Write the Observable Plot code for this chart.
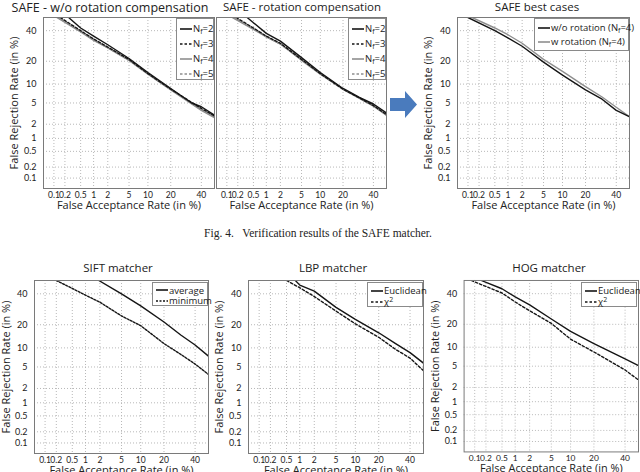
<!DOCTYPE html>
<html><head><meta charset="utf-8">
<script src="https://cdn.jsdelivr.net/npm/d3@7"></script>
<script src="https://cdn.jsdelivr.net/npm/@observablehq/plot@0.6"></script>
<style>
body{margin:0;background:#fff;}
#fig{position:relative;width:640px;height:472px;overflow:hidden;font-family:"Open Sans",sans-serif;color:#222;}
.panel{position:absolute;}
.title{position:absolute;font-size:11.5px;white-space:nowrap;transform:translateX(-50%);line-height:1.25;}
.legend{position:absolute;background:#fff;border:1px solid #8a8a8a;font-size:9.5px;box-sizing:border-box;padding:2px 2px 0 3px;line-height:1;}
.legend .row{display:flex;align-items:center;white-space:nowrap;}
.legend svg{flex:none;margin-right:1px;}
.legend sub{font-size:7px;vertical-align:-2px;line-height:0;}
.legend sup{font-size:7px;vertical-align:3px;line-height:0;}
.caption{position:absolute;left:0;width:636px;text-align:center;top:227px;font-family:"Liberation Serif",serif;font-size:11.5px;color:#222;}
</style>
</head><body>
<div id="fig"></div>
<script>
// ---------- DATA ----------
const detTicks = [0.1, 0.2, 0.5, 1, 2, 5, 10, 20, 40];
const detTickLabels = ["0.1", "0.2", "0.5", "1", "2", "5", "10", "20", "40"];
const detDomainPct = [0.05, 50];
const xAxisLabel = "False Acceptance Rate (in %)";
const yAxisLabel = "False Rejection Rate (in %)";

// SAFE - w/o rotation compensation  ([FAR %, FRR %])
const safeNoRotNf2 = [[0.25,50],[0.5,42],[1,36],[2,30],[5,21.5],[10,14.5],[20,8.6],[33,5.0],[40,4.3],[50,3.0]];
const safeNoRotNf3 = [[0.15,50],[0.5,40],[1,34],[2,28.5],[5,21],[10,14],[20,8.4],[40,4.0],[50,2.9]];
const safeNoRotNf4 = [[0.12,50],[0.5,39],[1,33],[2,28],[5,20.5],[10,13.8],[20,8.2],[40,3.7],[50,2.7]];
const safeNoRotNf5 = [[0.13,50],[0.5,39.5],[1,33.5],[2,28],[5,20.5],[10,14],[20,8.3],[40,3.8],[50,2.8]];

// SAFE - rotation compensation
const safeRotNf2 = [[0.35,50],[0.5,46],[1,38],[2,32.5],[5,22],[10,14.5],[20,8.6],[30,6.2],[40,4.8],[50,3.3]];
const safeRotNf3 = [[0.18,50],[0.5,42],[1,36],[2,31],[5,21],[10,14],[20,8.4],[40,4.5],[50,3.1]];
const safeRotNf4 = [[0.14,50],[0.5,41],[1,35.5],[2,30.5],[5,20.5],[10,13.8],[20,8.3],[40,4.4],[50,3.0]];
const safeRotNf5 = [[0.15,50],[0.5,41.5],[1,35.5],[2,30.5],[5,20.8],[10,14],[20,8.4],[40,4.5],[50,3.0]];

// SAFE best cases
const safeBestNoRot = [[0.1,50],[0.5,40],[1,34.7],[2,29],[5,19.5],[10,13.4],[20,8.2],[30,5.8],[40,3.7],[50,2.8]];
const safeBestRot = [[0.13,50],[0.5,42],[1,37],[2,31],[5,21],[10,15],[20,9.2],[30,6.3],[40,4.2],[50,2.8]];

// SIFT matcher
const siftAverage = [[1.9,50],[5,40],[10,31.5],[20,21.5],[30,15],[40,11],[50,7.5]];
const siftMinimum = [[0.2,50],[0.5,44],[1,39],[2,34],[5,25],[10,19.5],[20,11.5],[30,8],[40,5.6],[50,3.7]];

// LBP matcher
const lbpEuclidean = [[0.8,50],[1,46.5],[2,42],[5,30.5],[10,23],[20,16],[30,11.5],[40,8.5],[50,5.8]];
const lbpChi2 = [[0.5,50],[1,44.5],[2,38],[5,28],[10,20.5],[20,14],[30,9.5],[40,7],[50,4.3]];

// HOG matcher
const hogEuclidean = [[0.15,50],[0.5,43.7],[1,37.6],[2,32],[5,23],[10,16.4],[20,11.3],[40,6.6],[50,5.1]];
const hogChi2 = [[0.08,50],[0.5,40.5],[1,34],[2,28],[5,20.5],[10,13],[20,8.5],[40,4.3],[50,2.8]];

// ---------- helpers ----------
function probit(p){
  const a=[-3.969683028665376e+01,2.209460984245205e+02,-2.759285104469687e+02,1.383577518672690e+02,-3.066479806614716e+01,2.506628277459239e+00];
  const b=[-5.447609879822406e+01,1.615858368580409e+02,-1.556989798598866e+02,6.680131188771972e+01,-1.328068155288572e+01];
  const c=[-7.784894002430293e-03,-3.223964580411365e-01,-2.400758277161838e+00,-2.549732539343734e+00,4.374664141464968e+00,2.938163982698783e+00];
  const d=[7.784695709041462e-03,3.224671290700398e-01,2.445134137142996e+00,3.754408661907416e+00];
  const pl=0.02425, ph=1-pl; let q,r;
  if(p<pl){q=Math.sqrt(-2*Math.log(p));return (((((c[0]*q+c[1])*q+c[2])*q+c[3])*q+c[4])*q+c[5])/((((d[0]*q+d[1])*q+d[2])*q+d[3])*q+1);}
  if(p<=ph){q=p-0.5;r=q*q;return (((((a[0]*r+a[1])*r+a[2])*r+a[3])*r+a[4])*r+a[5])*q/(((((b[0]*r+b[1])*r+b[2])*r+b[3])*r+b[4])*r+1);}
  q=Math.sqrt(-2*Math.log(1-p));return -(((((c[0]*q+c[1])*q+c[2])*q+c[3])*q+c[4])*q+c[5])/((((d[0]*q+d[1])*q+d[2])*q+d[3])*q+1);
}
const pz = v => probit(v/100);
const tickPos = detTicks.map(pz);
const tickFmt = v => { const i = tickPos.findIndex(t => Math.abs(t - v) < 1e-9); return i >= 0 ? detTickLabels[i] : ""; };
const dom = detDomainPct.map(pz);

const BLACK = "#151515", GRAY = "#8e8e8e";
const fig = document.getElementById("fig");

function addPanel(fx, fy, fw, fh, series, showY, yLabelDx = -29){
  const mL = 46, mT = 2, mR = 2, mB = 30;
  const marks = [
    Plot.gridX(tickPos, {stroke:"#b8b8b8", strokeOpacity:1, strokeDasharray:"1,2"}),
    Plot.gridY(tickPos, {stroke:"#b8b8b8", strokeOpacity:1, strokeDasharray:"1,2"}),
    Plot.axisX(tickPos, {tickFormat: tickFmt, tickSize: 0, tickPadding: 3, fontFamily: "Lato, sans-serif", fontSize: 8.5, label: null}),
    Plot.text([xAxisLabel], {text: d => d, frameAnchor: "bottom", dy: 17, fontSize: 11, textAnchor: "middle", lineAnchor: "middle"})
  ];
  if (showY){
    marks.push(Plot.axisY(tickPos, {tickFormat: tickFmt, tickSize: 0, tickPadding: 7, fontFamily: "Lato, sans-serif", fontSize: 9, label: null}));
    marks.push(Plot.text([yAxisLabel], {text: d => d, frameAnchor: "left", dx: yLabelDx, rotate: -90, fontSize: 11, textAnchor: "middle", lineAnchor: "middle"}));
  }
  for (const s of series){
    marks.push(Plot.line(s.data, {x: d => pz(d[0]), y: d => pz(d[1]), stroke: s.stroke, strokeWidth: 1.4, strokeDasharray: s.dash || null, clip: true}));
  }
  marks.push(Plot.frame({stroke:"#7a7a7a"}));
  const svg = Plot.plot({
    width: fw + mL + mR, height: fh + mT + mB,
    marginLeft: mL, marginTop: mT, marginRight: mR, marginBottom: mB,
    style: {fontFamily: "Open Sans, sans-serif", fontSize: "9px", color: "#222", background: "transparent", overflow: "visible"},
    x: {domain: dom, axis: null},
    y: {domain: dom, axis: null},
    marks
  });
  const wrap = document.createElement("div");
  wrap.className = "panel";
  wrap.style.left = (fx - mL) + "px";
  wrap.style.top = (fy - mT) + "px";
  wrap.appendChild(svg);
  fig.appendChild(wrap);
}

function addTitle(text, cx, top, size){
  const t = document.createElement("div");
  t.className = "title"; t.textContent = text;
  t.style.left = cx + "px"; t.style.top = top + "px";
  if (size) t.style.fontSize = size + "px";
  fig.appendChild(t);
}

function addLegend(x, y, w, h, entries, rowH){
  const L = document.createElement("div");
  L.className = "legend";
  L.style.left = x + "px"; L.style.top = y + "px"; L.style.width = w + "px"; L.style.height = h + "px";
  for (const e of entries){
    const row = document.createElement("div");
    row.className = "row"; row.style.height = rowH + "px";
    row.innerHTML = `<svg width="12" height="6"><line x1="0" y1="3" x2="12" y2="3" stroke="${e.stroke}" stroke-width="1.6" ${e.dash ? `stroke-dasharray="${e.dash}"` : ""}/></svg><span>${e.label}</span>`;
    L.appendChild(row);
  }
  fig.appendChild(L);
}

// ---------- top row ----------
const nfSeries = (d2, d3, d4, d5) => [
  {data: d4, stroke: GRAY}, {data: d5, stroke: GRAY, dash: "2.5,2"},
  {data: d3, stroke: BLACK, dash: "2.5,2"}, {data: d2, stroke: BLACK}
];
const nfLegend = [
  {label: "N<sub>f</sub>=2", stroke: BLACK}, {label: "N<sub>f</sub>=3", stroke: BLACK, dash: "2.5,2"},
  {label: "N<sub>f</sub>=4", stroke: GRAY}, {label: "N<sub>f</sub>=5", stroke: GRAY, dash: "2.5,2"}
];

addPanel(43, 17, 171, 171, nfSeries(safeNoRotNf2, safeNoRotNf3, safeNoRotNf4, safeNoRotNf5), true);
addPanel(216, 17, 170, 171, nfSeries(safeRotNf2, safeRotNf3, safeRotNf4, safeRotNf5), false);
addPanel(457, 17, 172, 171, [{data: safeBestRot, stroke: GRAY}, {data: safeBestNoRot, stroke: BLACK}], true);

addTitle("SAFE - w/o rotation compensation", 110, 0, 12.5);
addTitle("SAFE - rotation compensation", 302, 0);
addTitle("SAFE best cases", 537, 0);

addLegend(176, 18, 38, 62, nfLegend, 15);
addLegend(348, 18, 38, 62, nfLegend, 15);
addLegend(534, 18, 95, 33, [
  {label: "w/o rotation (N<sub>f</sub>=4)", stroke: BLACK},
  {label: "w rotation (N<sub>f</sub>=4)", stroke: GRAY}
], 14);

// arrow
const arrow = document.createElement("div");
arrow.className = "panel";
arrow.style.left = "388px"; arrow.style.top = "90px";
arrow.innerHTML = '<svg width="32" height="30"><path d="M2,8 H17 V1 L29,14.5 L17,28 V21 H2 Z" fill="#4a7bbd"/></svg>';
fig.appendChild(arrow);

// caption
const cap = document.createElement("div");
cap.className = "caption";
cap.innerHTML = "Fig. 4.&nbsp;&nbsp; Verification results of the SAFE matcher.";
fig.appendChild(cap);

// ---------- bottom row ----------
addPanel(34, 280, 174, 173, [{data: siftAverage, stroke: BLACK}, {data: siftMinimum, stroke: BLACK, dash: "2,1.5"}], true, -28);
addPanel(248, 280, 175, 173, [{data: lbpEuclidean, stroke: BLACK}, {data: lbpChi2, stroke: BLACK, dash: "2.5,2"}], true);
addPanel(464, 280, 176, 173, [{data: hogEuclidean, stroke: BLACK}, {data: hogChi2, stroke: BLACK, dash: "2.5,2"}], true);

addTitle("SIFT matcher", 118, 261);
addTitle("LBP matcher", 333, 261);
addTitle("HOG matcher", 549, 261);

addLegend(152, 282, 56, 24, [{label: "average", stroke: BLACK}, {label: "minimum", stroke: BLACK, dash: "2,1.5"}], 10.5);
addLegend(367, 282, 56, 25, [{label: "Euclidean", stroke: BLACK}, {label: "χ<sup>2</sup>", stroke: BLACK, dash: "2.5,2"}], 11);
addLegend(581, 282, 56, 25, [{label: "Euclidean", stroke: BLACK}, {label: "χ<sup>2</sup>", stroke: BLACK, dash: "2.5,2"}], 11);
</script>
</body></html>
